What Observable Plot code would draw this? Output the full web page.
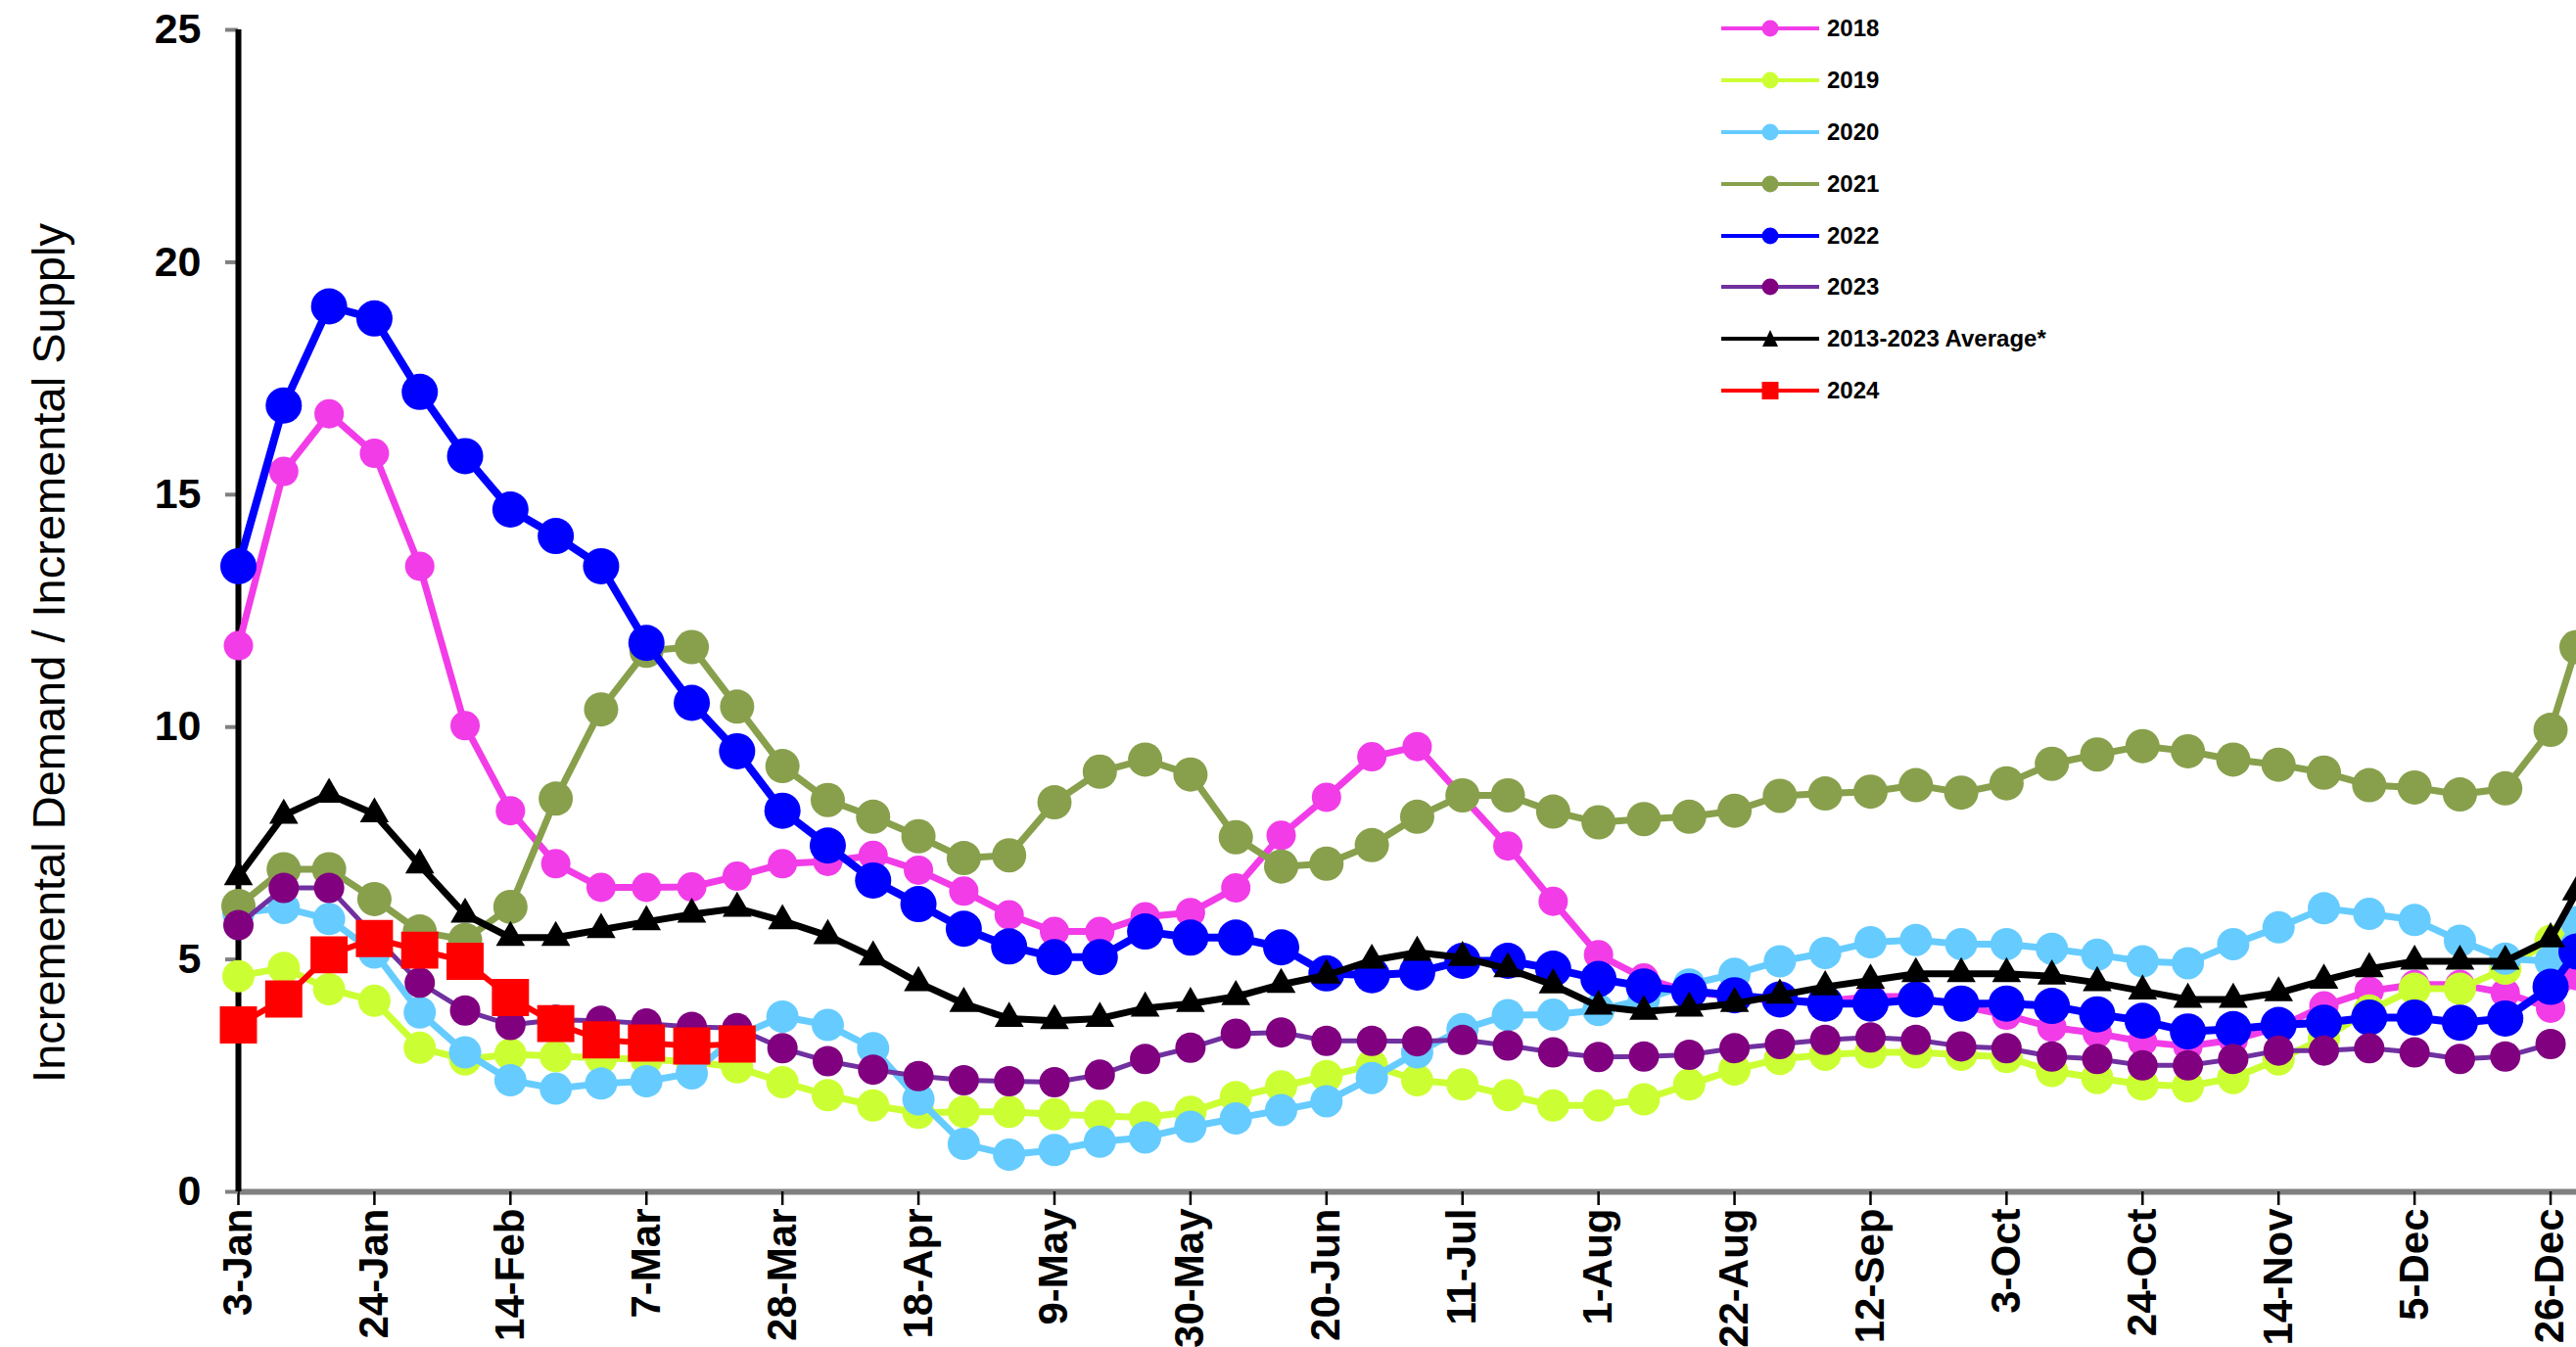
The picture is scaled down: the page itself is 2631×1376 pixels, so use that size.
<!DOCTYPE html>
<html><head><meta charset="utf-8">
<script src="https://cdn.jsdelivr.net/npm/d3@7"></script>
<script src="https://cdn.jsdelivr.net/npm/@observablehq/plot@0.6"></script>
<style>
html,body{margin:0;padding:0;background:#fff;overflow:hidden;}
#wrap{position:relative;width:2631px;height:1376px;}
#legend{position:absolute;left:1758px;top:2.5px;font-family:Arial,"Liberation Sans",sans-serif;font-weight:bold;font-size:24px;color:#000;}
.row{display:flex;align-items:center;height:52.9px;}
.row svg{display:block;margin-right:8px;}
</style></head><body><div id="wrap"><div id="chart"></div><div id="legend"></div></div>
<script>
// ---- Data ----
const weekDates = ["2023-01-03","2023-01-10","2023-01-17","2023-01-24","2023-01-31","2023-02-07","2023-02-14","2023-02-21","2023-02-28","2023-03-07","2023-03-14","2023-03-21","2023-03-28","2023-04-04","2023-04-11","2023-04-18","2023-04-25","2023-05-02","2023-05-09","2023-05-16","2023-05-23","2023-05-30","2023-06-06","2023-06-13","2023-06-20","2023-06-27","2023-07-04","2023-07-11","2023-07-18","2023-07-25","2023-08-01","2023-08-08","2023-08-15","2023-08-22","2023-08-29","2023-09-05","2023-09-12","2023-09-19","2023-09-26","2023-10-03","2023-10-10","2023-10-17","2023-10-24","2023-10-31","2023-11-07","2023-11-14","2023-11-21","2023-11-28","2023-12-05","2023-12-12","2023-12-19","2023-12-26","2023-12-30"];
const tickDates = ["2023-01-03","2023-01-24","2023-02-14","2023-03-07","2023-03-28","2023-04-18","2023-05-09","2023-05-30","2023-06-20","2023-07-11","2023-08-01","2023-08-22","2023-09-12","2023-10-03","2023-10-24","2023-11-14","2023-12-05","2023-12-26"];
const tickLabels = ["3-Jan","24-Jan","14-Feb","7-Mar","28-Mar","18-Apr","9-May","30-May","20-Jun","11-Jul","1-Aug","22-Aug","12-Sep","3-Oct","24-Oct","14-Nov","5-Dec","26-Dec"];
const yTicks = [0,5,10,15,20,25];
const yLabel = "Incremental Demand / Incremental Supply";

const s2018 = [11.75,15.5,16.74,15.89,13.46,10.03,8.2,7.06,6.55,6.55,6.56,6.79,7.06,7.11,7.24,6.92,6.47,5.96,5.6,5.6,5.92,6.01,6.54,7.67,8.49,9.36,9.58,8.5,7.44,6.25,5.1,4.6,4.3,4.2,4.1,4.1,4.2,4.2,4.0,3.8,3.54,3.41,3.23,3.13,3.27,3.54,4.0,4.32,4.46,4.46,4.28,3.95,4.65];
const s2019 = [4.64,4.82,4.36,4.11,3.1,2.85,2.96,2.92,2.88,2.85,2.8,2.68,2.36,2.08,1.86,1.7,1.72,1.72,1.67,1.63,1.6,1.72,2.04,2.27,2.49,2.72,2.4,2.31,2.08,1.86,1.86,1.99,2.31,2.63,2.86,2.95,3.0,3.0,2.95,2.9,2.6,2.45,2.31,2.27,2.45,2.85,3.3,3.9,4.37,4.37,4.8,5.4,null];
const s2020 = [6.0,6.11,5.87,5.15,3.86,3.0,2.4,2.22,2.33,2.38,2.55,3.35,3.77,3.59,3.09,1.99,1.03,0.8,0.9,1.08,1.17,1.4,1.58,1.76,1.95,2.45,3.0,3.5,3.8,3.81,3.91,4.14,4.46,4.69,4.96,5.14,5.37,5.42,5.33,5.33,5.23,5.1,4.96,4.92,5.33,5.69,6.1,5.98,5.85,5.4,5.02,4.96,5.8];
const s2021 = [6.15,6.94,6.94,6.3,5.6,5.42,6.13,8.46,10.38,11.64,11.72,10.44,9.16,8.43,8.07,7.65,7.18,7.24,8.38,9.04,9.3,8.98,7.63,7.0,7.06,7.46,8.07,8.53,8.53,8.18,7.95,8.02,8.07,8.2,8.52,8.57,8.61,8.75,8.59,8.79,9.21,9.41,9.59,9.48,9.3,9.19,9.02,8.75,8.7,8.55,8.68,9.94,11.72];
const s2022 = [13.46,16.92,19.05,18.79,17.21,15.83,14.68,14.11,13.46,11.81,10.52,9.48,8.2,7.45,6.7,6.19,5.66,5.28,5.05,5.05,5.6,5.47,5.47,5.26,4.7,4.66,4.72,4.97,4.97,4.8,4.58,4.42,4.32,4.23,4.14,4.05,4.05,4.14,4.05,4.05,4.0,3.82,3.68,3.45,3.5,3.59,3.64,3.75,3.75,3.64,3.73,4.41,5.17];
const s2023 = [5.74,6.54,6.54,5.5,4.5,3.9,3.59,3.7,3.68,3.62,3.55,3.52,3.09,2.81,2.63,2.49,2.4,2.38,2.36,2.52,2.86,3.1,3.4,3.43,3.25,3.25,3.24,3.27,3.15,3.0,2.9,2.91,2.95,3.09,3.18,3.27,3.32,3.27,3.13,3.09,2.91,2.86,2.72,2.72,2.86,3.04,3.04,3.09,3.0,2.86,2.91,3.18,null];
const sAvg = [6.78,8.1,8.55,8.13,7.03,5.97,5.47,5.47,5.64,5.81,5.97,6.1,5.83,5.51,5.05,4.5,4.05,3.73,3.68,3.73,3.95,4.05,4.2,4.46,4.66,4.98,5.15,5.04,4.8,4.45,3.99,3.88,3.95,4.05,4.23,4.41,4.55,4.69,4.69,4.69,4.64,4.5,4.32,4.14,4.14,4.28,4.55,4.8,4.96,4.96,4.96,5.44,6.45];
const s2024 = [3.59,4.15,5.1,5.45,5.2,4.96,4.18,3.62,3.27,3.2,3.14,3.18];

const series = [
  {name:"2018", values:s2018, line:"#f23ce8", fill:"#f23ce8", lw:7, r:15, symbol:"circle"},
  {name:"2019", values:s2019, line:"#ccff33", fill:"#ccff33", lw:7, r:16.5, symbol:"circle"},
  {name:"2020", values:s2020, line:"#66ccff", fill:"#66ccff", lw:7, r:16.5, symbol:"circle"},
  {name:"2021", values:s2021, line:"#88a04c", fill:"#88a04c", lw:7, r:17.5, symbol:"circle"},
  {name:"2022", values:s2022, line:"#0000ff", fill:"#0000ff", lw:8, r:18.5, symbol:"circle"},
  {name:"2023", values:s2023, line:"#7030a0", fill:"#800080", lw:5, r:15.5, symbol:"circle"},
  {name:"2013-2023 Average*", values:sAvg, line:"#000000", fill:"#000000", lw:7, r:11, symbol:"triangle"},
  {name:"2024", values:s2024, line:"#ff0000", fill:"#ff0000", lw:6, r:21.4, symbol:"square"}
];

// ---- Chart ----
const parse = d3.utcParse("%Y-%m-%d");
const tickDateObjs = tickDates.map(parse);
const labelFor = d => tickLabels[tickDateObjs.findIndex(t => +t === +d)];

const marks = [
  Plot.ruleY([0], {stroke:"#808080", strokeWidth:6}),
  Plot.axisX({ticks: tickDateObjs, tickFormat: labelFor, tickRotate: -90, tickSize: 14, tickPadding: 3,
    stroke: "#000", strokeWidth: 2.5, fill: "#000", fontSize: 42, fontWeight: "bold", label: null}),
  Plot.axisY({ticks: yTicks, tickSize: 13, tickPadding: 25, stroke: "#808080", strokeWidth: 4,
    fill: "#000", fontSize: 43, fontWeight: "bold", label: null}),
  Plot.ruleX([parse(weekDates[0])], {stroke:"#000", strokeWidth:6}),
  Plot.text([yLabel], {frameAnchor:"left", textAnchor:"middle", rotate:-90, dx:-193, dy:43, fontSize:47, fontWeight:"normal", fill:"#000"})
];

for (const s of series) {
  const data = [];
  s.values.forEach((v, j) => { if (v != null) data.push({date: parse(weekDates[j]), value: v}); });
  marks.push(Plot.line(data, {x:"date", y:"value", stroke:s.line, strokeWidth:s.lw}));
  marks.push(Plot.dot(data, {x:"date", y:"value", r:s.r, fill:s.fill, stroke:null, symbol:s.symbol}));
}

const chart = Plot.plot({
  width: 2631, height: 1376,
  marginTop: 30, marginBottom: 159, marginLeft: 243, marginRight: 0,
  x: {type: "utc", domain: [parse("2023-01-03"), parse("2023-12-30")]},
  y: {domain: [0, 25]},
  style: {fontFamily: "Arial, 'Liberation Sans', sans-serif", background: "#fff", color: "#000", overflow: "visible"},
  marks
});
document.getElementById("chart").appendChild(chart);

// ---- Legend ----
const legend = document.getElementById("legend");
const NS = "http://www.w3.org/2000/svg";
for (const s of series) {
  const row = document.createElement("div");
  row.className = "row";
  const svg = document.createElementNS(NS, "svg");
  svg.setAttribute("width", 100); svg.setAttribute("height", 24);
  const ln = document.createElementNS(NS, "line");
  ln.setAttribute("x1", 0); ln.setAttribute("x2", 100); ln.setAttribute("y1", 12); ln.setAttribute("y2", 12);
  ln.setAttribute("stroke", s.line); ln.setAttribute("stroke-width", 4);
  svg.appendChild(ln);
  let mk;
  if (s.symbol === "circle") {
    mk = document.createElementNS(NS, "circle");
    mk.setAttribute("cx", 50); mk.setAttribute("cy", 12); mk.setAttribute("r", 8.5);
  } else if (s.symbol === "square") {
    mk = document.createElementNS(NS, "rect");
    mk.setAttribute("x", 41.5); mk.setAttribute("y", 3); mk.setAttribute("width", 17); mk.setAttribute("height", 18);
  } else {
    mk = document.createElementNS(NS, "polygon");
    mk.setAttribute("points", "50,3 58,20 42,20");
  }
  mk.setAttribute("fill", s.fill);
  svg.appendChild(mk);
  const tx = document.createElement("span");
  tx.textContent = s.name;
  row.appendChild(svg); row.appendChild(tx);
  legend.appendChild(row);
}
</script></body></html>
